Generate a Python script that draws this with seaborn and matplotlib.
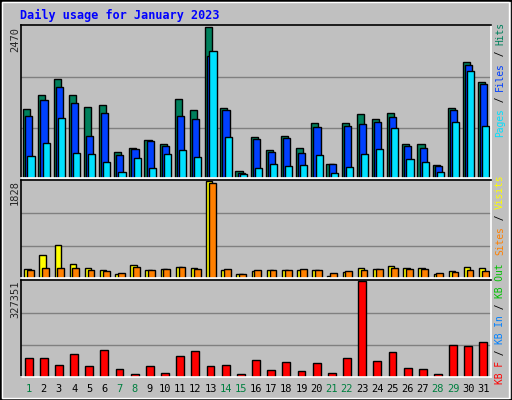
import matplotlib
matplotlib.use("Agg")
import matplotlib.pyplot as plt
import seaborn as sns
import numpy as np
from matplotlib.patches import Rectangle

days = np.arange(1, 32)
hits_y = [270,228,180,228,264,258,393,381,360,372,240,273,28,267,450,351,387,348,381,309,429,309,282,297,279,372,372,432,267,132,189]
files_y = [288,243,204,252,348,279,402,384,363,378,288,297,114,273,456,357,393,354,396,321,429,318,312,306,291,378,381,435,273,141,195]
pages_y = [405,369,294,396,399,423,453,411,441,399,387,408,99,351,459,441,429,435,432,402,456,438,399,384,324,414,423,453,306,159,318]
hits = [round((470 - v) * 2470 / 442) for v in hits_y]
files = [round((470 - v) * 2470 / 442) for v in files_y]
pages = [round((470 - v) * 2470 / 442) for v in pages_y]
visits_y = [279,240,210,264,276,282,294,267,282,279,273,276,28,282,294,285,282,282,282,282,297,288,276,279,270,276,276,294,285,273,276]
sites_y = [282,276,276,276,282,285,291,273,282,279,273,279,34,279,294,282,282,282,279,282,291,285,282,279,276,279,279,291,288,282,285]
visits = [round((304 - v) * 1828 / 276) for v in visits_y]
sites = [round((304 - v) * 1828 / 276) for v in sites_y]
kb_y = [549,549,567,537,570,525,579,594,570,591,543,528,570,567,594,552,582,558,585,561,591,549,327,555,531,576,579,594,510,513,501]
kbytes = [round((602 - v) * 327351 / 275) for v in kb_y]
weekend = [1, 7, 8, 14, 15, 21, 22, 28, 29]

sns.set_theme(style="white")
plt.rcParams['font.family'] = ['DejaVu Sans Mono']
BG = "#C0C0C0"
fig = plt.figure(figsize=(5.12, 4.0), dpi=100, facecolor=BG)
fig.patches.append(Rectangle((0, 0), 1, 1, transform=fig.transFigure, fill=False, ec="black", lw=2))
fig.patches.append(Rectangle((0.004, 0.005), 0.99, 0.99, transform=fig.transFigure, fill=False, ec="white", lw=1))

def ax_at(y0, y1):
    return fig.add_axes([21/512, (400-y1)/400, 470/512, (y1-y0)/400])

def bars(ax, vals, off, w, color):
    sns.barplot(x=days + off, y=vals, native_scale=True, width=w, color=color,
                edgecolor="black", linewidth=1, saturation=1, ax=ax)

def style(ax, top):
    ax.set_facecolor(BG)
    ax.set_xlim(0.5, 31.5)
    ax.set_ylim(0, top * 1.01)
    for f in (1/3, 2/3):
        ax.axhline(top * f, color="#808080", lw=1, zorder=0)
    ax.set_yticks([]); ax.set_xticks([])
    ax.set_xlabel(""); ax.set_ylabel("")
    for s in ax.spines.values():
        s.set_color("black"); s.set_linewidth(1.2)
    ax.spines['right'].set_color("white"); ax.spines['bottom'].set_color("white")

ax1 = ax_at(25, 178)
bars(ax1, hits, -0.12, 0.47, "#00805C")
bars(ax1, files, 0.02, 0.47, "#0040FF")
bars(ax1, pages, 0.16, 0.47, "#00E0FF")
style(ax1, 2470)

ax2 = ax_at(180, 278)
bars(ax2, visits, -0.08, 0.42, "#FFFF00")
bars(ax2, sites, 0.12, 0.45, "#FF8000")
style(ax2, 1828)

ax3 = ax_at(280, 377)
bars(ax3, kbytes, 0.0, 0.52, "#FF0000")
style(ax3, 327351)

fig.text(20/512, 1 - 15/400, "Daily usage for January 2023", color="#0000FF",
         fontsize=8.5, fontweight="bold", va="center", ha="left")

for y, lab in [(27, "2470"), (180, "1828"), (280, "327351")]:
    fig.text(15/512, 1 - y/400, lab, rotation=90, fontsize=7.5, ha="center", va="top")

for d in days:
    c = "#008040" if d in weekend else "black"
    x = 21 + (d - 0.5) * 470/31
    fig.text(x/512, 1 - 389/400, str(d), color=c, fontsize=7.5, ha="center", va="center")

CH = 5.75
def vlabel(y_start, segs):
    y = y_start
    for txt, col in segs:
        fig.text(500/512, 1 - y/400, txt, color=col, rotation=90, rotation_mode="anchor",
                 fontsize=6.9, ha="left", va="center")
        y -= CH * len(txt)

vlabel(137, [("Pages", "#00E0FF"), (" / ", "black"), ("Files", "#0040FF"), (" / ", "black"), ("Hits", "#00805C")])
vlabel(255, [("Sites", "#FF8000"), (" / ", "black"), ("Visits", "#FFFF00")])
vlabel(384, [("KB F", "#FF0000"), (" / ", "black"), ("KB In", "#0080FF"), (" / ", "black"), ("KB Out", "#00C000")])

fig.savefig("out.png", dpi=100, facecolor=BG)
